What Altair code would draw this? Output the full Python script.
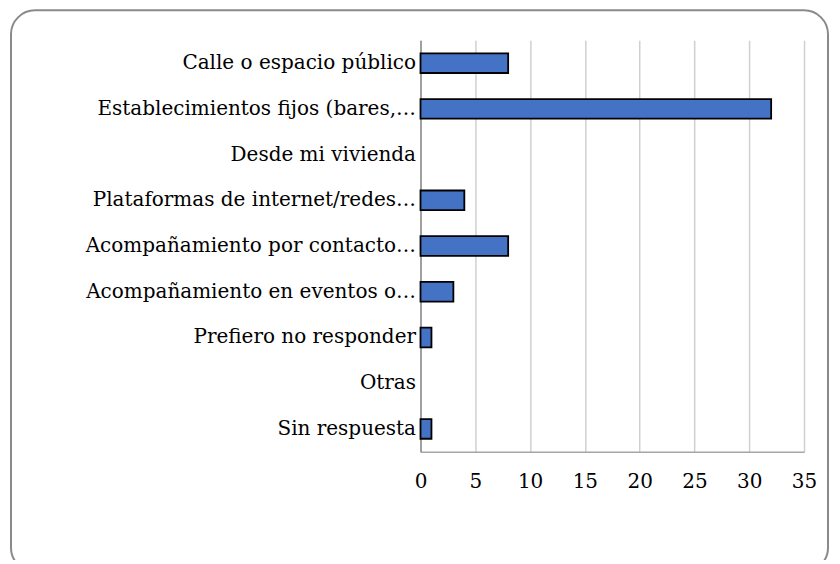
import altair as alt
import pandas as pd

categories = [
    "Calle o espacio público",
    "Establecimientos fijos (bares,…",
    "Desde mi vivienda",
    "Plataformas de internet/redes…",
    "Acompañamiento por contacto…",
    "Acompañamiento en eventos o…",
    "Prefiero no responder",
    "Otras",
    "Sin respuesta",
]
values = [8, 32, 0, 4, 8, 3, 1, 0, 1]
tick_values = [0, 5, 10, 15, 20, 25, 30, 35]

df = pd.DataFrame({"cat": categories, "val": values})
df_nonzero = df[df["val"] > 0]

FONT = "DejaVu Serif"

bars = alt.Chart(df_nonzero).mark_bar(
    color="#4472C4", stroke="#000000", strokeWidth=1.8
).encode(
    x=alt.X(
        "val:Q",
        scale=alt.Scale(domain=[0, 35], nice=False),
        axis=alt.Axis(
            values=tick_values, title=None, grid=True, gridColor="#d0d0d0",
            gridWidth=1.5, domainColor="#a6a6a6", domainWidth=1.5, ticks=False,
            labelPadding=20, labelFont=FONT, labelFontSize=20, labelColor="#000000",
            labelFlush=False, labelOverlap=False,
        ),
    ),
    y=alt.Y(
        "cat:N",
        sort=categories,
        scale=alt.Scale(domain=categories, paddingInner=0.57, paddingOuter=0.285),
        axis=alt.Axis(
            title=None, ticks=False, domainColor="#8c8c8c", domainWidth=1.5,
            labelPadding=5, labelFont=FONT, labelFontSize=20, labelColor="#000000",
            labelLimit=0,
        ),
    ),
)

border = alt.Chart(pd.DataFrame({"a": [0]})).mark_rect(
    fill=None, stroke="#8a8a8a", strokeWidth=2, cornerRadius=24
).encode(
    x=alt.value(-410), x2=alt.value(408), y=alt.value(-30), y2=alt.value(532)
)

chart = alt.layer(bars, border).properties(
    width=384,
    height=412,
    autosize=alt.AutoSizeParams(type="none"),
    padding={"left": 413, "top": 32, "right": 28, "bottom": 108},
    background="white",
).configure_view(stroke=None)

chart.save("out.html", embed_options={"renderer": "svg", "actions": False})
